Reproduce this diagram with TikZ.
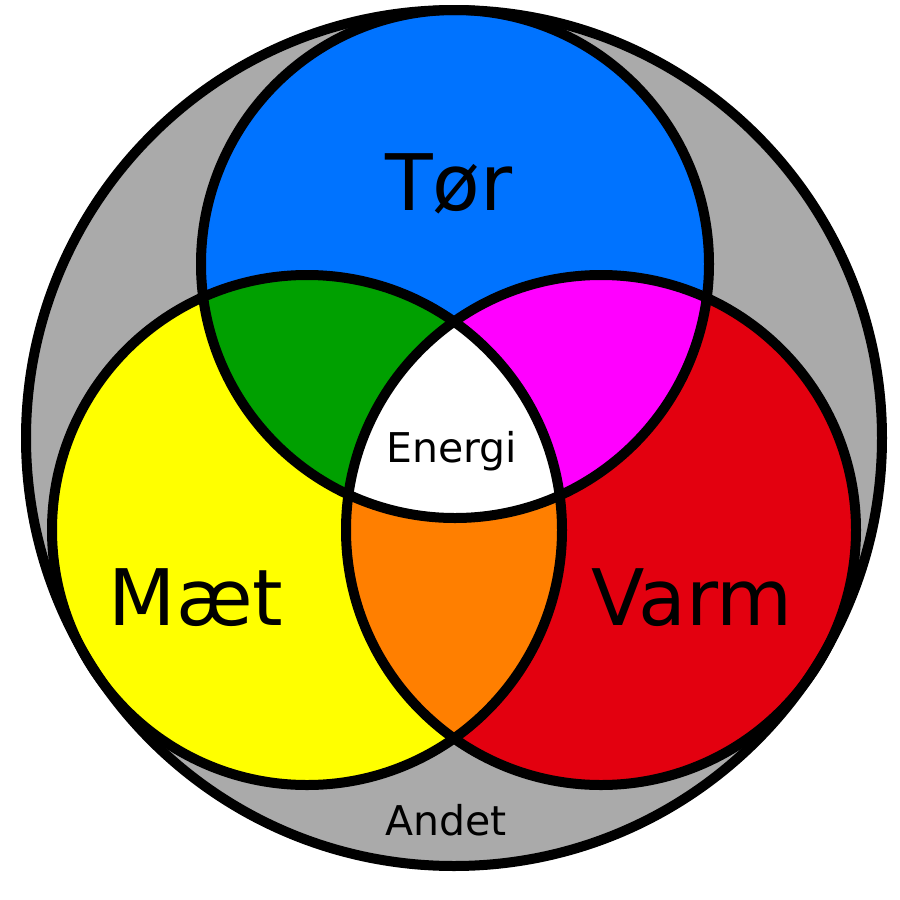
\documentclass[tikz,border=0pt]{standalone}
\usepackage{fontspec}
\setmainfont{DejaVu Sans}
\definecolor{cblue}{RGB}{0,115,255}
\definecolor{cgreen}{RGB}{0,160,0}
\definecolor{cmag}{RGB}{255,0,255}
\definecolor{cyel}{RGB}{255,255,0}
\definecolor{cred}{RGB}{227,0,15}
\definecolor{corange}{RGB}{255,127,0}
\definecolor{cgray}{RGB}{170,170,170}
\tikzset{
  ring/.style={draw=black, line width=10pt},
  bigtxt/.style={anchor=base, inner sep=0pt, font=\fontsize{78}{80}\selectfont},
  smalltxt/.style={anchor=base, inner sep=0pt, font=\fontsize{41}{44}\selectfont}
}
\begin{document}
\begin{tikzpicture}[x=1pt,y=-1pt]
\useasboundingbox (0,0) rectangle (900,900);
\def\outerc{(454,438) circle[radius=428]}
\def\topc{(455,264) circle[radius=254]}
\def\leftc{(307,530) circle[radius=255]}
\def\rightc{(601,530) circle[radius=255]}
% fills
\fill[cgray] \outerc;
\fill[cblue] \topc;
\fill[cyel] \leftc;
\fill[cred] \rightc;
\begin{scope}
  \clip \topc;
  \fill[cgreen] \leftc;
  \fill[cmag] \rightc;
\end{scope}
\begin{scope}
  \clip \leftc;
  \fill[corange] \rightc;
  \clip \rightc;
  \fill[white] \topc;
\end{scope}
% outlines
\draw[ring] \outerc;
\draw[ring] \topc;
\draw[ring] \leftc;
\draw[ring] \rightc;
% labels
\node[bigtxt] (tor) at (449,210) {Tør};
\node[bigtxt] (maet) at (196,625) {Mæt};
\node[bigtxt] (varm) at (692,625) {Varm};
\node[smalltxt] (energi) at (452,462) {Energi};
\node[smalltxt] (andet) at (446,835) {Andet};
\end{tikzpicture}
\end{document}
